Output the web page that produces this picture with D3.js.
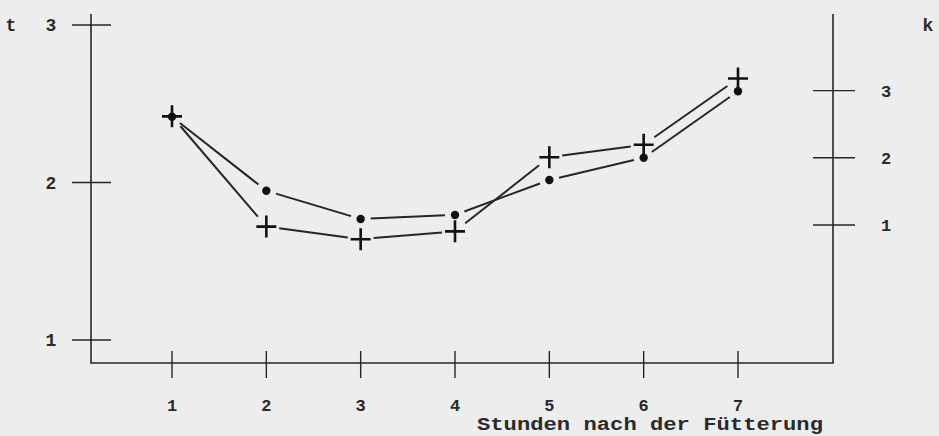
<!DOCTYPE html>
<html>
<head>
<meta charset="utf-8">
<script src="https://cdn.jsdelivr.net/npm/d3@7"></script>
<style>
  html, body { margin: 0; padding: 0; background: #ededed; }
  svg { display: block; }
  text { font-family: "Liberation Mono", "DejaVu Sans Mono", monospace; font-weight: bold; fill: #2a2a2a; }
</style>
</head>
<body>
<svg id="chart" width="939" height="436"></svg>
<script>
// Hours after feeding
const hours = [1, 2, 3, 4, 5, 6, 7];
// Series plotted against the left scale (t), drawn with "+" markers
const tValues = [2.42, 1.72, 1.64, 1.69, 2.16, 2.24, 2.66];
// Series plotted against the right scale (k), drawn with dot markers
const kValues = [2.61, 1.51, 1.09, 1.15, 1.67, 2.0, 2.99];
const tTicks = [1, 2, 3];
const kTicks = [1, 2, 3];
const xTitle = "Stunden nach der Fütterung";

(function () {
  const svg = d3.select("#chart");
  const ink = "#262626";

  const frameL = 91, frameR = 833, frameT = 14, frameB = 363;

  const x = d3.scaleLinear().domain([1, 7]).range([172, 738]);
  const yT = d3.scaleLinear().domain([1, 3]).range([340, 25]);
  const yK = d3.scaleLinear().domain([1, 3]).range([225, 90.6]);

  // Frame: two vertical axes joined by the baseline
  svg.append("path")
    .attr("d", `M${frameL},${frameT} V${frameB} H${frameR} V${frameT}`)
    .attr("fill", "none").attr("stroke", ink).attr("stroke-width", 1.6);

  // Left axis ticks crossing the line
  const gL = svg.append("g");
  gL.selectAll("line").data(tTicks).join("line")
    .attr("x1", frameL - 19).attr("x2", frameL + 20)
    .attr("y1", d => yT(d)).attr("y2", d => yT(d))
    .attr("stroke", ink).attr("stroke-width", 1.4);
  gL.selectAll("text").data(tTicks).join("text")
    .attr("x", 51).attr("y", d => yT(d)).attr("dy", "0.36em")
    .attr("text-anchor", "middle").attr("font-size", 18)
    .text(d => d);
  svg.append("text").attr("x", 11).attr("y", 25).attr("dy", "0.36em")
    .attr("text-anchor", "middle").attr("font-size", 18).text("t");

  // Right axis ticks
  const gR = svg.append("g");
  gR.selectAll("line").data(kTicks).join("line")
    .attr("x1", frameR - 20).attr("x2", frameR + 22)
    .attr("y1", d => yK(d)).attr("y2", d => yK(d))
    .attr("stroke", ink).attr("stroke-width", 1.4);
  gR.selectAll("text").data(kTicks).join("text")
    .attr("x", 886).attr("y", d => yK(d)).attr("dy", "0.36em")
    .attr("text-anchor", "middle").attr("font-size", 17)
    .text(d => d);
  svg.append("text").attr("x", 928).attr("y", 25).attr("dy", "0.36em")
    .attr("text-anchor", "middle").attr("font-size", 18).text("k");

  // Bottom axis ticks and labels
  const gX = svg.append("g");
  gX.selectAll("line").data(hours).join("line")
    .attr("x1", d => x(d)).attr("x2", d => x(d))
    .attr("y1", frameB - 12).attr("y2", frameB + 15)
    .attr("stroke", ink).attr("stroke-width", 1.4);
  gX.selectAll("text").data(hours).join("text")
    .attr("x", d => x(d)).attr("y", 411)
    .attr("text-anchor", "middle").attr("font-size", 17)
    .text(d => d);
  svg.append("text").attr("x", 477).attr("y", 430)
    .attr("font-size", 18.5).attr("textLength", 346).attr("lengthAdjust", "spacingAndGlyphs")
    .text(xTitle);

  // Connecting segments stop short of the markers
  function segments(values, yScale, gap) {
    const pts = hours.map((h, i) => [x(h), yScale(values[i])]);
    const segs = [];
    for (let i = 0; i < pts.length - 1; i++) {
      const [x0, y0] = pts[i], [x1, y1] = pts[i + 1];
      const len = Math.hypot(x1 - x0, y1 - y0);
      const ux = (x1 - x0) / len, uy = (y1 - y0) / len;
      segs.push([x0 + ux * gap, y0 + uy * gap, x1 - ux * gap, y1 - uy * gap]);
    }
    return segs;
  }

  svg.append("g").selectAll("line").data(segments(tValues, yT, 13)).join("line")
    .attr("x1", d => d[0]).attr("y1", d => d[1]).attr("x2", d => d[2]).attr("y2", d => d[3])
    .attr("stroke", ink).attr("stroke-width", 2);
  svg.append("g").selectAll("line").data(segments(kValues, yK, 10)).join("line")
    .attr("x1", d => d[0]).attr("y1", d => d[1]).attr("x2", d => d[2]).attr("y2", d => d[3])
    .attr("stroke", ink).attr("stroke-width", 2);

  // Dot markers
  svg.append("g").selectAll("circle").data(hours).join("circle")
    .attr("cx", d => x(d)).attr("cy", (d, i) => yK(kValues[i]))
    .attr("r", 4.2).attr("fill", "#111");

  // Plus markers
  const gP = svg.append("g").attr("stroke", "#111").attr("stroke-width", 2.6);
  gP.selectAll("path").data(hours).join("path")
    .attr("d", (d, i) => {
      const cx = x(d), cy = yT(tValues[i]);
      return `M${cx - 10},${cy} H${cx + 10} M${cx},${cy - 11} V${cy + 11}`;
    });
})();
</script>
</body>
</html>
